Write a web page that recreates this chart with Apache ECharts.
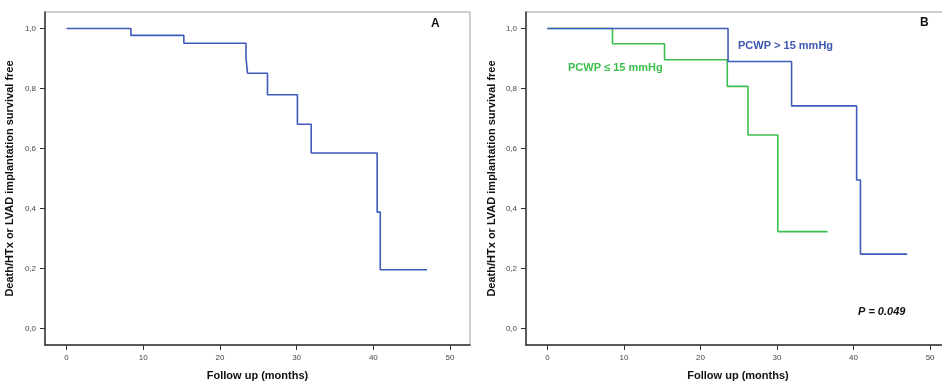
<!DOCTYPE html>
<html>
<head>
<meta charset="utf-8">
<script src="https://cdn.jsdelivr.net/npm/echarts@6/dist/echarts.min.js"></script>
<style>
  html, body { margin: 0; padding: 0; background: #fff; }
  #main { width: 942px; height: 381px; }
</style>
</head>
<body>
<div id="main"></div>
<script>
// Kaplan-Meier steps: [months, survival]
var allPatients = [
  [0, 1.0], [8.4, 0.977], [15.3, 0.951], [23.4, 0.902], [23.6, 0.851],
  [26.2, 0.779], [30.1, 0.681], [31.9, 0.585], [40.5, 0.388], [40.9, 0.196], [47.0, 0.196]
];
var pcwpHigh = [
  [0, 1.0], [23.6, 0.89], [31.9, 0.742], [40.4, 0.495], [40.9, 0.248], [47.0, 0.248]
];
var pcwpLow = [
  [0, 1.0], [8.5, 0.949], [15.3, 0.896], [23.5, 0.807], [26.2, 0.645], [30.1, 0.323], [36.6, 0.323]
];
var xTicks = [0, 10, 20, 30, 40, 50];
var yTicks = [0, 0.2, 0.4, 0.6, 0.8, 1.0];

var blue = '#3d5bba';
var green = '#3cbe4c';
var font = 'Liberation Sans, Arial, sans-serif';

function xAxisCfg(idx) {
  return {
    type: 'value', gridIndex: idx, min: -2.8, max: 52.6,
    name: 'Follow up (months)', nameLocation: 'middle', nameGap: 25,
    nameTextStyle: { fontFamily: font, fontSize: 11, fontWeight: 'bold', color: '#111' },
    axisLine: { show: true, onZero: false, lineStyle: { color: '#333', width: 1.5 } },
    axisTick: { show: true, inside: false, customValues: xTicks, length: 5, lineStyle: { color: '#333' } },
    axisLabel: { customValues: xTicks, margin: 9, fontFamily: font, fontSize: 8, color: '#444' },
    splitLine: { show: false }
  };
}
function yAxisCfg(idx, gap) {
  return {
    type: 'value', gridIndex: idx, min: -0.055, max: 1.055,
    name: 'Death/HTx or LVAD implantation survival free', nameLocation: 'middle',
    nameRotate: 90, nameGap: gap,
    nameTextStyle: { fontFamily: font, fontSize: 11, fontWeight: 'bold', color: '#111' },
    axisLine: { show: true, onZero: false, lineStyle: { color: '#333', width: 1.5 } },
    axisTick: { show: true, inside: false, customValues: yTicks, length: 5, lineStyle: { color: '#333' } },
    axisLabel: {
      customValues: yTicks, margin: 9, fontFamily: font, fontSize: 8, color: '#444',
      formatter: function (v) { return v.toFixed(1).replace('.', ','); }
    },
    splitLine: { show: false }
  };
}
function km(data, color, xi) {
  return {
    type: 'line', step: 'end', data: data, xAxisIndex: xi, yAxisIndex: xi,
    symbol: 'none', silent: true,
    lineStyle: { color: color, width: 1.6 }
  };
}

var chart = echarts.init(document.getElementById('main'));
chart.setOption({
  animation: false,
  backgroundColor: '#fff',
  grid: [
    { left: 45, top: 12, width: 425, height: 333, show: true, borderColor: '#a0a0a0', borderWidth: 1, outerBoundsMode: 'none' },
    { left: 526, top: 12, width: 424, height: 333, show: true, borderColor: '#a0a0a0', borderWidth: 1, outerBoundsMode: 'none' }
  ],
  xAxis: [xAxisCfg(0), xAxisCfg(1)],
  yAxis: [yAxisCfg(0, 30), yAxisCfg(1, 29)],
  series: [
    km(allPatients, blue, 0),
    km(pcwpLow, green, 1),
    km(pcwpHigh, blue, 1)
  ],
  graphic: [
    { type: 'text', left: 431, top: 18, style: { text: 'A', font: 'bold 12px ' + font, fill: '#111' } },
    { type: 'text', left: 920, top: 17, style: { text: 'B', font: 'bold 12px ' + font, fill: '#111' } },
    { type: 'text', left: 738, top: 40, style: { text: 'PCWP > 15 mmHg', font: 'bold 11px ' + font, fill: '#3f57b0' } },
    { type: 'text', left: 568, top: 62, style: { text: 'PCWP \u2264 15 mmHg', font: 'bold 11px ' + font, fill: '#3cbe4c' } },
    { type: 'text', left: 858, top: 306, style: { text: 'P = 0.049', font: 'italic bold 11px ' + font, fill: '#111' } }
  ]
});
</script>
</body>
</html>
